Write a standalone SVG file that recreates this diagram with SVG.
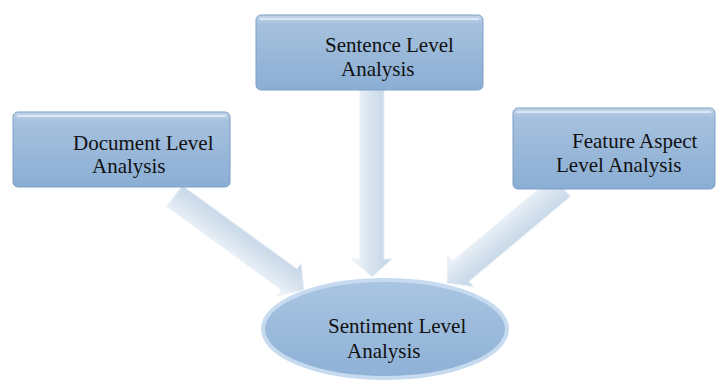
<svg xmlns="http://www.w3.org/2000/svg" width="717" height="382" viewBox="0 0 717 382">
<defs>
<linearGradient id="boxg" x1="0" y1="0" x2="0" y2="1">
<stop offset="0" stop-color="#c3d6ea"/>
<stop offset="0.12" stop-color="#a6c1de"/>
<stop offset="1" stop-color="#8aaed4"/>
</linearGradient>
<linearGradient id="ellg" x1="0" y1="0" x2="0" y2="1">
<stop offset="0" stop-color="#a9c5e2"/>
<stop offset="1" stop-color="#8eb1d6"/>
</linearGradient>
<linearGradient id="arrg" x1="0" y1="0" x2="1" y2="0">
<stop offset="0" stop-color="#f2f6fa"/>
<stop offset="0.5" stop-color="#d6e2ee"/>
<stop offset="1" stop-color="#c3d4e6"/>
</linearGradient>
<style>
.box{fill:url(#boxg);stroke:#7d9fc6;stroke-width:1}
.bevel{fill:none;stroke:#e3edf7;stroke-width:2;opacity:0.8}
.arr{fill:url(#arrg);stroke:#e9f0f7;stroke-width:1}
.t{font-family:"Liberation Serif","Times New Roman",serif;font-size:21px;fill:#111}
</style>
</defs>
<g id="connectors">
<polygon class="arr" transform="translate(372,277) rotate(0)" points="0,0 -20,-18 -12,-18 -12,-187 12,-187 12,-18 20,-18"/>
<polygon class="arr" transform="translate(304,290) rotate(-54)" points="0,0 -20,-18 -13,-18 -13,-160 13,-160 13,-18 20,-18"/>
<polygon class="arr" transform="translate(447,283) rotate(50)" points="0,0 -20,-18 -13,-18 -13,-150 13,-150 13,-18 20,-18"/>
</g>
<g id="sentence">
<rect class="box" x="256" y="15" width="227" height="75" rx="5"/>
<path class="bevel" d="M260 19 H479"/>
<text class="t" x="325" y="52">Sentence Level</text>
<text class="t" x="341" y="76">Analysis</text>
</g>
<g id="document">
<rect class="box" x="13" y="112" width="217" height="75" rx="5"/>
<path class="bevel" d="M17 116 H226"/>
<text class="t" x="73" y="150">Document Level</text>
<text class="t" x="92" y="173">Analysis</text>
</g>
<g id="feature">
<rect class="box" x="513" y="108" width="202" height="81" rx="5"/>
<path class="bevel" d="M517 112 H711"/>
<text class="t" x="572" y="148">Feature Aspect</text>
<text class="t" x="556" y="172">Level Analysis</text>
</g>
<g id="sentiment">
<ellipse cx="385" cy="329" rx="122" ry="49" fill="url(#ellg)" stroke="#c6dbef" stroke-width="4"/>
<text class="t" x="328" y="333">Sentiment Level</text>
<text class="t" x="347" y="358">Analysis</text>
</g>
</svg>
